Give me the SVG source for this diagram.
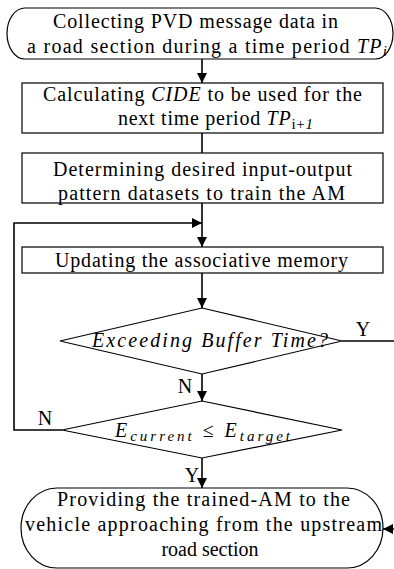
<svg xmlns="http://www.w3.org/2000/svg" width="394" height="569" viewBox="0 0 394 569">
  <style>
    .shape { fill: #ffffff; stroke: #000000; stroke-width: 1.2; }
    .conn { fill: none; stroke: #000000; stroke-width: 1.6; }
    text { font-family: "Liberation Serif", "Times New Roman", serif; font-size: 20px; fill: #000000; }
    .it { font-style: italic; }
    .sub { font-size: 15px; }
  </style>
  <defs>
    <marker id="arrow" viewBox="0 0 10 10" refX="10" refY="5" markerWidth="10" markerHeight="10" markerUnits="userSpaceOnUse" orient="auto">
      <path d="M0,0 L10,5 L0,10 z" fill="#000000"/>
    </marker>
  </defs>
  <rect width="394" height="569" fill="#ffffff"/>

  <!-- connectors -->
  <g id="connectors">
    <line class="conn" x1="202" y1="59" x2="202" y2="83" marker-end="url(#arrow)"/>
    <line class="conn" x1="202" y1="133" x2="202" y2="153"/>
    <line class="conn" x1="202" y1="203" x2="202" y2="247" marker-end="url(#arrow)"/>
    <path class="conn" d="M62,430 H14 V223 H202" marker-end="url(#arrow)"/>
    <line class="conn" x1="202" y1="273" x2="202" y2="308" marker-end="url(#arrow)"/>
    <line class="conn" x1="202" y1="374" x2="202" y2="401" marker-end="url(#arrow)"/>
    <line class="conn" x1="202" y1="458" x2="202" y2="488" marker-end="url(#arrow)"/>
    <path class="conn" d="M342,341 H397 V529 H383" marker-end="url(#arrow)"/>
    <text x="363" y="336" text-anchor="middle">Y</text>
    <text x="185" y="393" text-anchor="middle">N</text>
    <text x="45" y="425" text-anchor="middle">N</text>
    <text x="192" y="482" text-anchor="middle">Y</text>
  </g>

  <!-- start terminal -->
  <g id="collect">
    <path class="shape" d="M25,8 H375 A18,25.5 0 0 1 375,59 H25 A18,25.5 0 0 1 25,8 z"/>
    <text x="53" y="28" textLength="285" lengthAdjust="spacing">Collecting PVD message data in</text>
    <text x="27" y="53" textLength="360" lengthAdjust="spacing">a road section during a time period <tspan class="it">TP</tspan><tspan class="it sub" dy="3">i</tspan></text>
  </g>

  <g id="calculate">
    <rect class="shape" x="22" y="83" width="361" height="50"/>
    <text x="43" y="101" textLength="319" lengthAdjust="spacing">Calculating <tspan class="it">CIDE</tspan> to be used for the</text>
    <text x="118" y="125" textLength="195" lengthAdjust="spacing">next time period <tspan class="it">TP</tspan><tspan class="sub" dy="4">i+</tspan><tspan class="it sub">1</tspan></text>
  </g>

  <g id="determine">
    <rect class="shape" x="22" y="153" width="361" height="50"/>
    <text x="53" y="176" textLength="299" lengthAdjust="spacing">Determining desired input-output</text>
    <text x="58" y="200" textLength="287" lengthAdjust="spacing">pattern datasets to train the AM</text>
  </g>

  <g id="update">
    <rect class="shape" x="22" y="247" width="361" height="26"/>
    <text x="55" y="267" textLength="293" lengthAdjust="spacing">Updating the associative memory</text>
  </g>

  <g id="buffer-check">
    <polygon class="shape" points="202,308 342,341 202,374 60,341"/>
    <text class="it" x="92" y="347" textLength="236" lengthAdjust="spacing">Exceeding Buffer Time?</text>
  </g>

  <g id="error-check">
    <polygon class="shape" points="202,401 342,430 202,458 62,430"/>
    <text x="115" y="437" textLength="175" lengthAdjust="spacing"><tspan class="it">E</tspan><tspan class="it sub" dy="4">current</tspan><tspan dy="-4"> ≤ </tspan><tspan class="it">E</tspan><tspan class="it sub" dy="4">target</tspan></text>
  </g>

  <!-- end terminal -->
  <g id="provide">
    <path class="shape" d="M57,488 H347 A36,40 0 0 1 347,568 H57 A36,40 0 0 1 57,488 z"/>
    <text x="57" y="506" textLength="293" lengthAdjust="spacing">Providing the trained-AM to the</text>
    <text x="25" y="531" textLength="357" lengthAdjust="spacing">vehicle approaching from the upstream</text>
    <text x="210" y="556" text-anchor="middle">road section</text>
  </g>
</svg>
